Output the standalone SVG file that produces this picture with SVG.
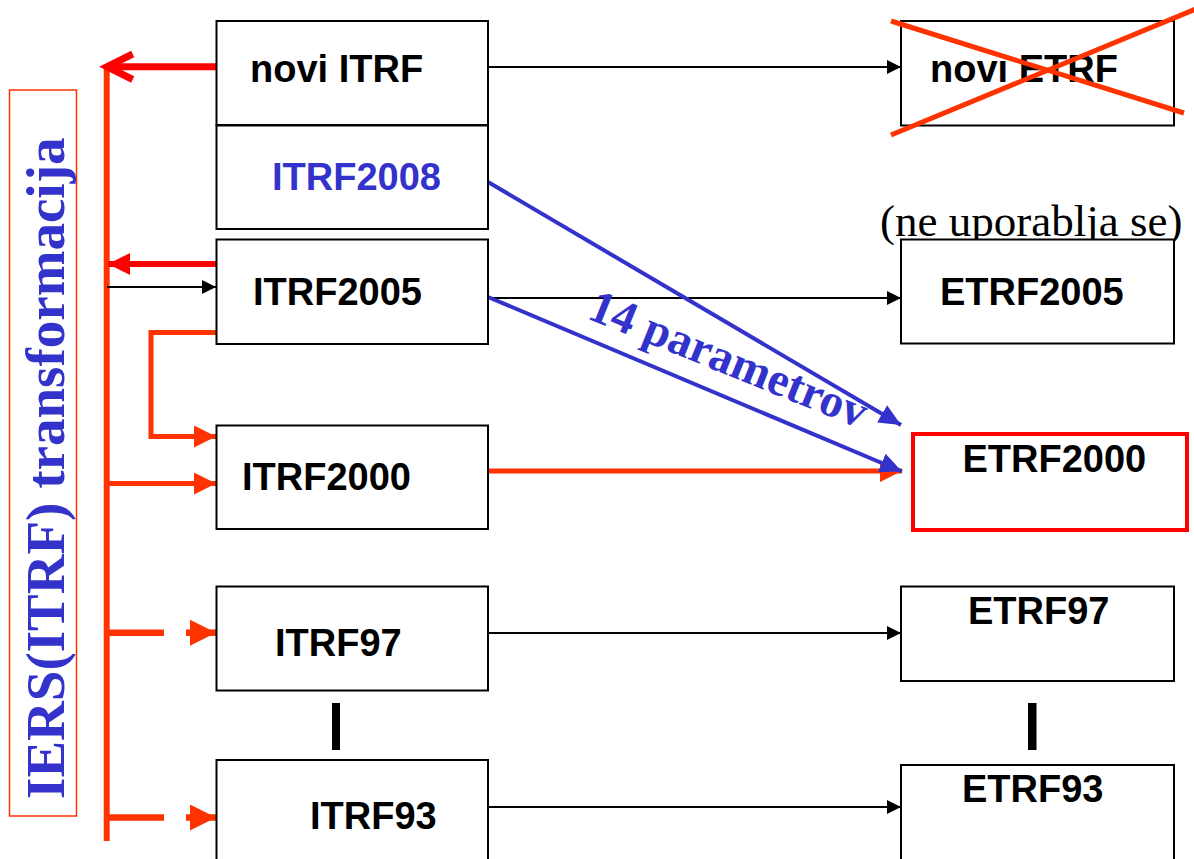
<svg xmlns="http://www.w3.org/2000/svg" width="1194" height="859" viewBox="0 0 1194 859">
<style>
.box{fill:#fff;stroke:#000;stroke-width:2}
.lbl{font-family:"Liberation Sans",Arial,sans-serif;font-weight:bold;font-size:38px;fill:#000}
.blue{fill:#3333CC}
.thin{stroke:#000;stroke-width:2;fill:none}
.or{stroke:#FF3300;fill:none}
.rd{stroke:#FF0000;fill:none}
.bl{stroke:#3333CC;stroke-width:4;fill:none}
.serif{font-family:"Liberation Serif","Times New Roman",serif}
</style>
<defs>
<marker id="ab" markerUnits="userSpaceOnUse" viewBox="0 0 14 14" refX="14" refY="7" markerWidth="14" markerHeight="14" orient="auto"><path d="M0,0 L14,7 L0,14 z" fill="#000"/></marker>
<marker id="ao" markerUnits="userSpaceOnUse" viewBox="0 0 22 22" refX="22" refY="11" markerWidth="22" markerHeight="22" orient="auto"><path d="M0,0 L22,11 L0,22 z" fill="#FF3300"/></marker>
<marker id="ao2" markerUnits="userSpaceOnUse" viewBox="0 0 26 26" refX="26" refY="13" markerWidth="26" markerHeight="26" orient="auto"><path d="M0,0 L26,13 L0,26 z" fill="#FF3300"/></marker>
<marker id="ar" markerUnits="userSpaceOnUse" viewBox="0 0 22 22" refX="22" refY="11" markerWidth="22" markerHeight="22" orient="auto"><path d="M0,0 L22,11 L0,22 z" fill="#FF0000"/></marker>
<marker id="abl" markerUnits="userSpaceOnUse" viewBox="0 0 22 20" refX="22" refY="10" markerWidth="22" markerHeight="20" orient="auto"><path d="M0,0 L22,10 L0,20 z" fill="#3333CC"/></marker>
</defs>

<g id="iers-label">
<rect x="9.5" y="90" width="67" height="726" fill="none" stroke="#FF3300" stroke-width="1.5"/>
<text class="serif" font-weight="bold" font-size="55" fill="#3333CC" transform="translate(63.5,799) rotate(-90)">IERS(ITRF) transformacija</text>
</g>

<g id="connectors">
<line x1="106.7" y1="65" x2="106.7" y2="841" class="or" stroke-width="6"/>
<line x1="216" y1="66.7" x2="108" y2="66.7" class="rd" stroke-width="7"/>
<polyline points="132.7,54 107,66.7 132.7,79.5" class="rd" stroke-width="7"/>
<line x1="216" y1="264" x2="108" y2="264" class="rd" stroke-width="6" marker-end="url(#ar)"/>
<line x1="107" y1="287" x2="216" y2="287" class="thin" marker-end="url(#ab)"/>
<polyline points="216,332.5 151,332.5 151,436.5 216,436.5" class="or" stroke-width="5" marker-end="url(#ao)"/>
<line x1="107" y1="483.5" x2="216" y2="483.5" class="or" stroke-width="5" marker-end="url(#ao)"/>
<line x1="107" y1="632.7" x2="164" y2="632.7" class="or" stroke-width="6.5"/>
<line x1="186" y1="632.7" x2="216" y2="632.7" class="or" stroke-width="6.5" marker-end="url(#ao2)"/>
<line x1="107" y1="817.5" x2="164" y2="817.5" class="or" stroke-width="6.5"/>
<line x1="186" y1="817.5" x2="216" y2="817.5" class="or" stroke-width="6.5" marker-end="url(#ao2)"/>
<line x1="488" y1="67" x2="901" y2="67" class="thin" marker-end="url(#ab)"/>
<line x1="488" y1="298" x2="901" y2="298" class="thin" marker-end="url(#ab)"/>
<line x1="488" y1="633" x2="901" y2="633" class="thin" marker-end="url(#ab)"/>
<line x1="488" y1="807" x2="901" y2="807" class="thin" marker-end="url(#ab)"/>
<line x1="488" y1="471" x2="902" y2="471" class="or" stroke-width="5" marker-end="url(#ao)"/>
<line x1="488" y1="182" x2="901" y2="425" class="bl" marker-end="url(#abl)"/>
<line x1="488" y1="297" x2="902" y2="471.5" class="bl" marker-end="url(#abl)"/>
<rect x="332" y="703" width="8" height="47" fill="#000"/>
<rect x="1028" y="703" width="8.5" height="47" fill="#000"/>
<text class="serif" font-weight="bold" font-size="47" fill="#3333CC" transform="translate(586,318) rotate(22)">14 parametrov</text>
</g>

<g id="novi-itrf"><rect class="box" x="216.5" y="21" width="271.5" height="104"/><text class="lbl" x="250" y="82">novi ITRF</text></g>
<g id="itrf2008"><rect class="box" x="216.5" y="125.5" width="271.5" height="103.5"/><text class="lbl blue" x="272" y="190">ITRF2008</text></g>
<g id="itrf2005"><rect class="box" x="216.5" y="239.5" width="271.5" height="104.5"/><text class="lbl" x="253" y="305">ITRF2005</text></g>
<g id="itrf2000"><rect class="box" x="216.5" y="425.5" width="271.5" height="103.5"/><text class="lbl" x="242" y="490">ITRF2000</text></g>
<g id="itrf97"><rect class="box" x="216.5" y="586.5" width="271.5" height="104"/><text class="lbl" x="275" y="656">ITRF97</text></g>
<g id="itrf93"><rect class="box" x="216.5" y="760" width="271.5" height="104"/><text class="lbl" x="310" y="829">ITRF93</text></g>

<g id="novi-etrf"><rect class="box" x="901" y="21" width="273" height="104.5"/><text class="lbl" x="930" y="82">novi ETRF</text>
<line x1="891" y1="21" x2="1184" y2="113" stroke="#FF3300" stroke-width="5"/>
<line x1="891" y1="135" x2="1196" y2="9" stroke="#FF3300" stroke-width="5"/></g>
<g id="ne-uporablja"><text class="serif" font-size="45" fill="#000" x="880" y="236">(ne uporablja se)</text></g>
<g id="etrf2005"><rect class="box" x="901" y="239.5" width="273" height="104"/><text class="lbl" x="940" y="305">ETRF2005</text></g>
<g id="etrf2000"><rect x="913" y="434" width="274" height="96" fill="#fff" stroke="#FF0000" stroke-width="4"/><text class="lbl" x="962.5" y="472">ETRF2000</text></g>
<g id="etrf97"><rect class="box" x="901" y="586.5" width="273" height="94.5"/><text class="lbl" x="968" y="623.5">ETRF97</text></g>
<g id="etrf93"><rect class="box" x="901" y="765" width="273" height="100"/><text class="lbl" x="962" y="802">ETRF93</text></g>
</svg>
